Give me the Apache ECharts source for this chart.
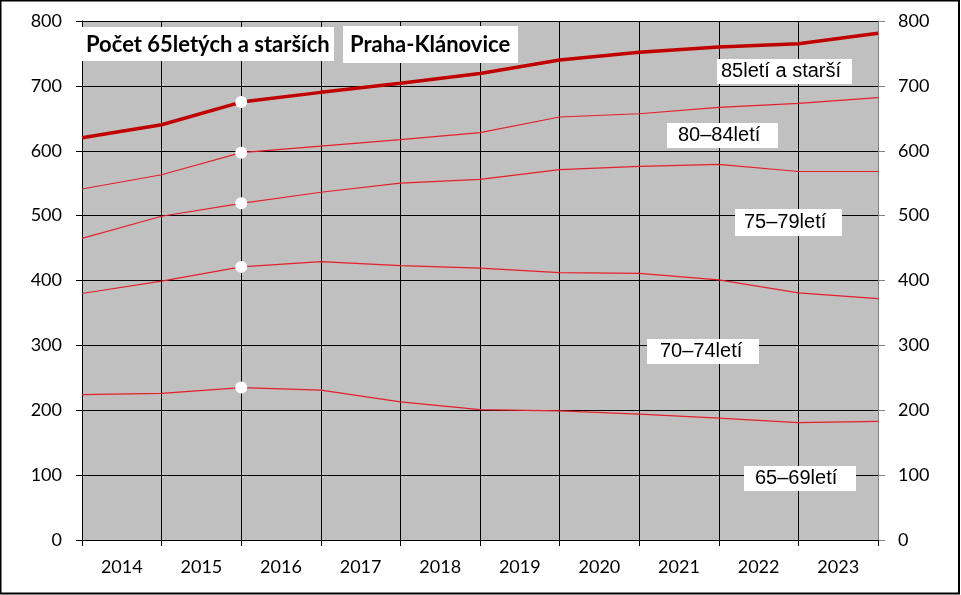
<!DOCTYPE html>
<html>
<head>
<meta charset="utf-8">
<script src="https://cdn.jsdelivr.net/npm/echarts@6/dist/echarts.min.js"></script>
<style>
  html, body { margin: 0; padding: 0; background: #fff; }
  #chart { width: 961px; height: 595px; }
</style>
</head>
<body>
<div id="chart"></div>
<script type="text/javascript">
// roky (popisky mezi mřížkou), body leží na hranicích let
var years = ['2014', '2015', '2016', '2017', '2018', '2019', '2020', '2021', '2022', '2023']
var age85plus = [620, 640, 675, 690, 704, 719, 740, 752, 760, 765, 781]
var age80_84 = [541, 563, 597, 607, 617, 628, 652, 657, 667, 673, 682]
var age75_79 = [465, 499, 519, 536, 550, 556, 571, 576, 579, 568, 568]
var age70_74 = [380, 399, 421, 429, 423, 419, 412, 411, 401, 381, 372]
var age65_69 = [224, 226, 235, 231, 213, 201, 199, 194, 188, 181, 183]
var seriesNames = ['85letí a starší', '80–84letí', '75–79letí', '70–74letí', '65–69letí']
var titleParts = ['Počet 65letých a starších', 'Praha-Klánovice']
var markIndex = 2 // bílé body

var chart = echarts.init(document.getElementById('chart'))

function toData(arr) {
    return arr.map(function (v, i) {
        if (i === markIndex) {
            return {
                value: [i, v],
                symbol: 'circle',
                symbolSize: 12,
                itemStyle: { color: '#ffffff', borderWidth: 0 }
            }
        }
        return [i, v]
    })
}

function lineSeries(name, arr, thick) {
    return {
        name: name,
        type: 'line',
        xAxisIndex: 0,
        yAxisIndex: 0,
        symbol: 'none',
        showAllSymbol: true,
        animation: false,
        lineStyle: {
            color: thick ? '#c00000' : '#e4202a',
            width: thick ? 3.5 : 1.2
        },
        itemStyle: { color: '#ffffff' },
        emphasis: { disabled: true },
        z: thick ? 4 : 3,
        data: toData(arr)
    }
}

// popisky řad: [text, box x, box y, box w, box h, text x]
var boxes = [
    [seriesNames[0], 717, 59, 135, 25, 721],
    [seriesNames[1], 667, 123, 111, 25, 678],
    [seriesNames[2], 735, 209, 107, 27, 744],
    [seriesNames[3], 647, 339, 112, 25, 660],
    [seriesNames[4], 744, 466, 112, 25, 755]
]
var graphics = []
boxes.forEach(function (b) {
    graphics.push({ type: 'rect', shape: { x: b[1], y: b[2], width: b[3], height: b[4] }, style: { fill: '#ffffff' }, z: 10 })
    graphics.push({ type: 'text', x: b[5], y: b[2] + b[4] / 2, style: { text: b[0], font: '20px "Liberation Sans", Arial, sans-serif', fill: '#000', verticalAlign: 'middle' }, z: 11 })
})
graphics.push({ type: 'rect', shape: { x: 82, y: 27, width: 252, height: 34 }, style: { fill: '#ffffff' }, z: 10 })
graphics.push({ type: 'text', x: 86, y: 45, style: { text: titleParts[0], font: 'bold 22px Lato, sans-serif', fill: '#000', verticalAlign: 'middle' }, z: 11 })
graphics.push({ type: 'rect', shape: { x: 343, y: 26, width: 175, height: 37 }, style: { fill: '#ffffff' }, z: 10 })
graphics.push({ type: 'text', x: 350, y: 45, style: { text: titleParts[1], font: 'bold 22px Lato, sans-serif', fill: '#000', verticalAlign: 'middle' }, z: 11 })
// rámeček
graphics.push({ type: 'rect', shape: { x: 0.5, y: 0.5, width: 958.5, height: 593 }, style: { fill: 'none', stroke: '#000', lineWidth: 2 }, z: 12 })

var option = {
    backgroundColor: '#ffffff',
    animation: false,
    grid: {
        left: 82, right: 83, top: 21, bottom: 55,
        show: true,
        backgroundColor: '#c0c0c0',
        borderWidth: 0
    },
    xAxis: [
        {
            type: 'value',
            min: 0, max: 10, interval: 1,
            axisLine: { show: true, lineStyle: { color: '#000', width: 1 } },
            axisTick: { show: true, length: 6, lineStyle: { color: '#000' } },
            axisLabel: { show: false },
            splitLine: { show: true, lineStyle: { color: '#000', width: 1 } }
        },
        {
            type: 'category',
            data: years,
            boundaryGap: true,
            position: 'bottom',
            axisLine: { show: false },
            axisTick: { show: false },
            axisLabel: { margin: 18, color: '#000', fontSize: 18, fontFamily: 'Lato, sans-serif' },
            splitLine: { show: false }
        }
    ],
    yAxis: [
        {
            type: 'value',
            min: 0, max: 800, interval: 100,
            position: 'left',
            axisLine: { show: true, lineStyle: { color: '#000', width: 1 } },
            axisTick: { show: true, length: 6, lineStyle: { color: '#000' } },
            axisLabel: { margin: 20, color: '#000', fontSize: 18, fontFamily: 'Lato, sans-serif' },
            splitLine: { show: true, lineStyle: { color: '#000', width: 1 } }
        },
        {
            type: 'value',
            min: 0, max: 800, interval: 100,
            position: 'right',
            axisLine: { show: true, lineStyle: { color: '#808080', width: 1 } },
            axisTick: { show: true, length: 7, lineStyle: { color: '#808080' } },
            axisLabel: { margin: 20, color: '#000', fontSize: 18, fontFamily: 'Lato, sans-serif' },
            splitLine: { show: false }
        }
    ],
    series: [
        lineSeries(seriesNames[4], age65_69, false),
        lineSeries(seriesNames[3], age70_74, false),
        lineSeries(seriesNames[2], age75_79, false),
        lineSeries(seriesNames[1], age80_84, false),
        lineSeries(seriesNames[0], age85plus, true)
    ],
    graphic: graphics
}

chart.setOption(option)
window.addEventListener('resize', () => {
    chart.resize()
})
</script>
</body>
</html>
